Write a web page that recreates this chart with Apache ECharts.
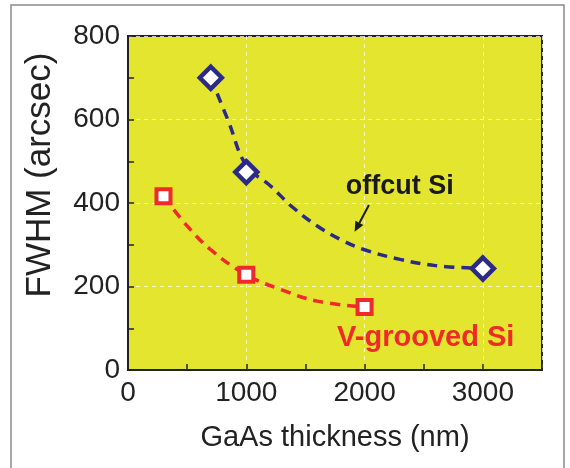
<!DOCTYPE html>
<html>
<head>
<meta charset="utf-8">
<script src="https://cdn.jsdelivr.net/npm/echarts@6/dist/echarts.min.js"></script>
</head>
<body style="margin:0;background:#fff">
<div id="main" style="width:570px;height:468px;"></div>
<script type="text/javascript">
// measured points
var offcutX = [700, 1000, 3000];
var offcutY = [700, 474, 243];
var vgroovedX = [300, 1000, 2000];
var vgroovedY = [416, 228, 151];
// dashed guide curves
var offcutFitX = [700, 850, 1000, 1200, 1400, 1600, 1800, 2000, 2300, 2600, 3000];
var offcutFitY = [700, 595, 490, 442, 388, 345, 312, 288, 265, 250, 243];
var vgroovedFitX = [300, 500, 700, 1000, 1300, 1600, 2000];
var vgroovedFitY = [416, 345, 288, 228, 192, 165, 151];
var xTicks = [0, 1000, 2000, 3000];
var yTicks = [0, 200, 400, 600, 800];
// annotation anchors (data units)
var offcutLabelAt = [2297, 440];
var vgroovedLabelAt = [2517, 77];
var arrowFrom = [2037, 395];
var arrowTo = [1916, 331];

function zip(xs, ys) {
    return xs.map(function (x, i) { return [x, ys[i]]; });
}

var dark = '#222';
var font = 'Liberation Sans, Arial, sans-serif';

var chart = echarts.init(document.getElementById('main'));

var tickAxis = {
    type: 'value',
    axisLine: { lineStyle: { color: dark, width: 2 } },
    axisTick: { inside: true, length: 6, lineStyle: { color: dark, width: 1.5 } },
    splitLine: { show: false },
    axisLabel: { color: dark, fontSize: 28, fontFamily: font }
};
var gridAxis = {
    type: 'value',
    axisLine: { show: false },
    axisTick: { show: false },
    axisLabel: { show: false },
    splitLine: { lineStyle: { color: 'rgba(255,255,255,0.75)', type: [4, 4], width: 1 } }
};

var option = {
    backgroundColor: '#fff',
    animation: false,
    grid: {
        left: 128, right: 28, top: 36, bottom: 98,
        show: true, backgroundColor: '#e4e52e', borderColor: dark, borderWidth: 2
    },
    xAxis: [
        Object.assign({}, tickAxis, {
            min: 0, max: 3500, interval: 500,
            axisLabel: Object.assign({}, tickAxis.axisLabel, {
                margin: 9,
                formatter: function (v) { return xTicks.indexOf(v) >= 0 ? String(v) : ''; }
            }),
            name: 'GaAs thickness (nm)', nameLocation: 'middle', nameGap: 53,
            nameTextStyle: { color: dark, fontSize: 29, fontFamily: font }
        }),
        Object.assign({}, gridAxis, { min: 0, max: 3500, interval: 1000, position: 'bottom' })
    ],
    yAxis: [
        Object.assign({}, tickAxis, {
            min: 0, max: 800, interval: 100,
            axisLabel: Object.assign({}, tickAxis.axisLabel, {
                margin: 8,
                formatter: function (v) { return yTicks.indexOf(v) >= 0 ? String(v) : ''; }
            }),
            name: 'FWHM (arcsec)', nameLocation: 'middle', nameGap: 70,
            nameTextStyle: { color: dark, fontSize: 35, fontFamily: font, padding: [0, 0, 0, 56] }
        }),
        Object.assign({}, gridAxis, { min: 0, max: 800, interval: 200, position: 'left' })
    ],
    series: [
        {
            type: 'line', data: zip(offcutFitX, offcutFitY), smooth: 0.4,
            showSymbol: false, lineStyle: { color: '#2b2a86', width: 3.5, type: [10, 7] }, z: 2
        },
        {
            type: 'line', data: zip(vgroovedFitX, vgroovedFitY), smooth: 0.4,
            showSymbol: false, lineStyle: { color: '#ee2a2a', width: 3.5, type: [10, 7] }, z: 2
        },
        {
            name: 'offcut Si', type: 'scatter', data: zip(offcutX, offcutY),
            symbol: 'diamond', symbolSize: 22,
            itemStyle: { color: '#fff', borderColor: '#2b2a86', borderWidth: 4.5, opacity: 1 }, z: 3
        },
        {
            name: 'V-grooved Si', type: 'scatter', data: zip(vgroovedX, vgroovedY),
            symbol: 'rect', symbolSize: 14,
            itemStyle: { color: '#fff', borderColor: '#ee2a2a', borderWidth: 4, opacity: 1 }, z: 3
        }
    ]
};
chart.setOption(option);

var px = function (p) { return chart.convertToPixel({ gridIndex: 0 }, p); };
var a0 = px(arrowFrom), a1 = px(arrowTo);
var ang = Math.atan2(a1[1] - a0[1], a1[0] - a0[0]);
var hl = 10, hw = 4.5;
var base = [a1[0] - hl * Math.cos(ang), a1[1] - hl * Math.sin(ang)];
var head = [
    a1,
    [base[0] + hw * Math.sin(ang), base[1] - hw * Math.cos(ang)],
    [base[0] - hw * Math.sin(ang), base[1] + hw * Math.cos(ang)]
];
var l1 = px(offcutLabelAt), l2 = px(vgroovedLabelAt);

chart.setOption({
    graphic: [
        { type: 'rect', shape: { x: 11, y: 5, width: 553, height: 480 },
          style: { fill: 'none', stroke: '#8a8a8a', lineWidth: 1.5 }, z: 0 },
        { type: 'text', x: l1[0], y: l1[1], z: 10,
          style: { text: 'offcut Si', fill: '#1a1a1a', font: 'bold 27px ' + font, textAlign: 'center', textVerticalAlign: 'middle' } },
        { type: 'text', x: l2[0], y: l2[1], z: 10,
          style: { text: 'V-grooved Si', fill: '#ee2a2a', font: 'bold 29px ' + font, textAlign: 'center', textVerticalAlign: 'middle' } },
        { type: 'line', shape: { x1: a0[0], y1: a0[1], x2: base[0], y2: base[1] }, z: 10,
          style: { stroke: '#1a1a1a', lineWidth: 2 } },
        { type: 'polygon', shape: { points: head }, z: 10, style: { fill: '#1a1a1a' } }
    ]
});
</script>
</body>
</html>
